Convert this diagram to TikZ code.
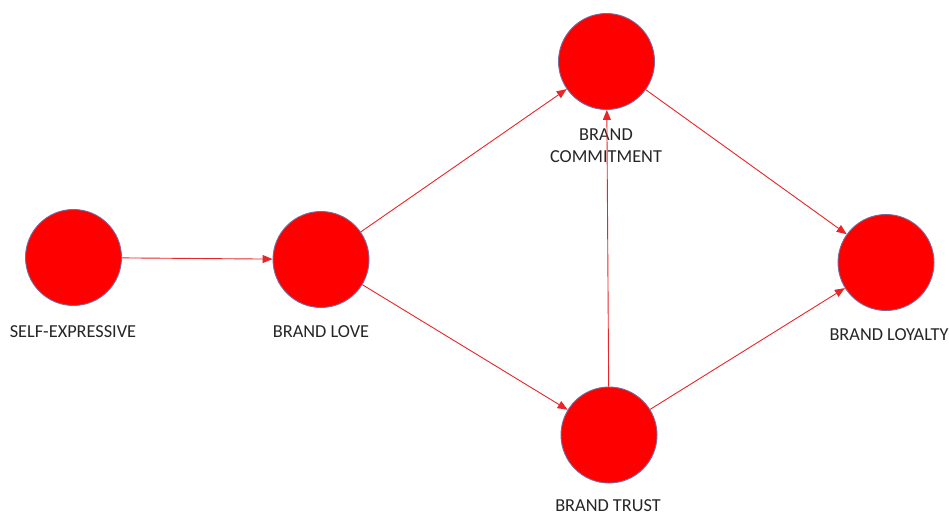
\documentclass[tikz,border=0pt]{standalone}
\usepackage{fontspec}
\setmainfont{Carlito}
\usetikzlibrary{arrows.meta}
\definecolor{fillred}{HTML}{FF0000}
\definecolor{rim}{HTML}{7A6A9A}
\definecolor{edge}{HTML}{E8262A}
\tikzset{
  construct/.style={circle, fill=fillred, draw=rim, line width=0.9pt, minimum size=96pt, inner sep=0pt},
  lbl/.style={font=\fontsize{18.3}{22}\selectfont, text=black!85, align=center, inner sep=0pt},
  link/.style={draw=edge, line width=0.9pt, -{Triangle[length=10pt,width=8pt]}}
}
\begin{document}
\begin{tikzpicture}[x=1pt,y=-1pt]
\useasboundingbox[fill=white] (0,0) rectangle (949,516);
\node[construct] (se) at (73.5,257.5) {};
\node[construct] (bl) at (321,259.5) {};
\node[construct] (bc) at (606.5,61.5) {};
\node[construct] (bt) at (609,435) {};
\node[construct] (by) at (886,262.5) {};
\node[lbl] (lse) at (73,332) {SELF-EXPRESSIVE};
\node[lbl] (lbl1) at (321,332) {BRAND LOVE};
\node[lbl] (lbc) at (606,146) {BRAND\\COMMITMENT};
\node[lbl] (lbt) at (608,506) {BRAND TRUST};
\node[lbl] (lby) at (889,335) {BRAND LOYALTY};
\draw[link] (se) -- (bl);
\draw[link] (bl) -- (bc);
\draw[link] (bl) -- (bt);
\draw[link] (bt) -- (bc);
\draw[link] (bc) -- (by);
\draw[link] (bt) -- (by);
\end{tikzpicture}
\end{document}
